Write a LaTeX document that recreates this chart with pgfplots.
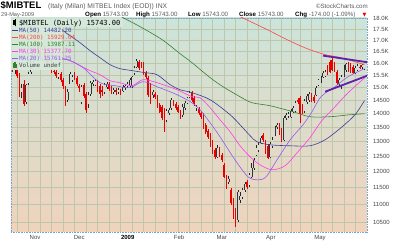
\documentclass[border=0pt]{standalone}
\usepackage{fontspec}
\setmainfont{Liberation Sans}
\newfontfamily\mono{DejaVu Sans Mono}
\newfontfamily\dejavu{DejaVu Sans}
\usepackage{pgfplots}
\usepackage{pgfplotstable}
\pgfplotsset{compat=1.18}

\definecolor{bgtop}{RGB}{204,228,218}
\definecolor{bgmid}{RGB}{242,235,180}
\definecolor{bgbot}{RGB}{240,211,188}
\definecolor{legbg}{RGB}{214,233,218}
\definecolor{gridc}{RGB}{190,198,172}
\definecolor{bord}{RGB}{120,165,205}
\definecolor{tickc}{RGB}{70,70,70}
\definecolor{hdrgray}{RGB}{90,90,90}
\definecolor{cdown}{RGB}{235,0,0}
\definecolor{maF}{RGB}{60,60,150}
\definecolor{maCC}{RGB}{255,70,70}
\definecolor{maC}{RGB}{50,130,50}
\definecolor{maT}{RGB}{255,60,230}
\definecolor{maW}{RGB}{150,90,240}
\definecolor{trend}{RGB}{100,30,170}

\tikzset{
  wickdn/.style={draw=cdown, line width=0.5pt},
  wickup/.style={draw=black!85, line width=0.5pt},
  bodydn/.style={draw=cdown, line width=1.6pt},
  bodyup/.style={draw=black!80, line width=1.6pt},
  bodyin/.style={draw=black!15, line width=0.55pt},
}

% daily candles: t = trading day (0 = 16 Oct 2008, 153 = 29 May 2009)
\pgfplotstableread{
t o h l c
0 16059 16230 15638 15721
1 15721 16059 15555 15889
2 15889 15974 15391 15472
3 15513 15596 14633 14711
4 14829 15147 14595 14988
5 15147 15309 14288 14364
6 14441 15147 14364 15107
7 15188 15638 15107 15555
8 15638 16316 15555 16144
9 16144 16711 16059 16578
10 16578 17024 16490 16845
11 16845 16934 16447 16578
12 16578 16711 16144 16230
13 16230 16667 16101 16578
14 16578 16756 16230 16316
15 16316 16403 15847 15974
16 15974 16273 15805 16144
17 16059 16144 15596 15679
18 15679 15763 15555 15638
19 15638 15721 15391 15472
20 15431 15596 15350 15555
21 15555 15638 15228 15309
22 15309 15391 14948 15067
23 14988 15067 14288 14364
24 14517 14948 14441 14829
25 15147 15638 15147 15555
26 15309 15513 15228 15431
27 15555 15638 15309 15391
28 15391 15472 15067 15147
29 15067 15147 14829 14988
30 14441 15107 14364 15027
31 15107 15188 14595 14672
32 14750 14829 14025 14137
33 14364 14829 14213 14711
34 14750 15269 14672 15188
35 15147 15309 15067 15228
36 15107 15350 15067 15269
37 15228 15309 14829 14988
38 15067 15147 14595 14750
39 14908 15067 14672 14829
40 14829 15188 14750 15107
41 15027 15228 14948 15147
42 15147 15228 14869 14948
43 14988 15067 14750 14829
44 14829 14988 14750 14908
45 14908 14988 14711 14829
46 14829 14988 14750 14908
47 14869 14948 14711 14829
48 14869 15107 14829 15027
49 14988 15147 14908 15067
50 15067 15228 14988 15147
51 15067 15391 14988 15309
52 15067 15472 14988 15431
53 15596 15889 15513 15805
54 15847 16187 15805 16101
55 16059 16144 15721 15805
56 15974 16059 15805 15889
57 15974 16059 15513 15596
58 15596 15679 15350 15431
59 15391 15472 14633 14711
60 15067 15188 14364 14402
61 14711 14908 14595 14829
62 14750 14829 14556 14633
63 14633 14711 14213 14250
64 14326 14402 14025 14062
65 14250 14326 13766 13840
66 14137 14213 13335 13766
67 13766 14175 13694 14100
68 14025 14213 13950 14137
69 14213 14595 14137 14517
70 14441 14517 14288 14364
71 14364 14441 14137 14213
72 14250 14326 14025 14062
73 14062 14137 13803 13840
74 13950 14364 13876 14250
75 14213 14479 14137 14402
76 14402 14633 14364 14595
77 14633 14869 14595 14790
78 14790 14869 14441 14517
79 14595 14672 14288 14364
80 14213 14326 14100 14250
81 14175 14250 13950 14025
82 14025 14100 13803 13876
83 13950 14025 13442 13513
84 13585 13657 13264 13335
85 13371 13442 13089 13159
86 13229 13300 12814 12882
87 12985 13054 12578 12645
88 12712 12780 12412 12479
89 12479 12882 12445 12780
90 12712 12814 12479 12545
91 12545 12612 12314 12379
92 12216 12281 11802 11833
93 11833 11896 11462 11523
94 11677 11865 11615 11770
95 11431 11492 10985 11044
96 11132 11191 10584 10641
97 10840 10898 10361 10556
98 10556 11431 10500 11371
99 11132 11371 11044 11250
100 11221 11492 11162 11431
101 11431 11677 11371 11615
102 11677 11739 11462 11523
103 11584 11960 11523 11896
104 11833 12281 11802 12119
105 12119 12445 12055 12379
106 12545 12882 12512 12780
107 12712 12985 12645 12882
108 12951 13194 12916 13124
109 13229 13300 12985 13054
110 12985 13054 12578 12645
111 12848 12916 12412 12445
112 12479 12985 12445 12916
113 12848 13159 12780 13054
114 13229 13549 13194 13478
115 13513 13657 13442 13585
116 13585 13657 13229 13300
117 13406 13478 12985 13054
118 13054 13913 13020 13840
119 13840 14025 13766 13950
120 13913 14062 13840 13987
121 13876 14175 13840 14100
122 14062 14288 14025 14213
123 14100 14479 14062 14402
124 14517 14595 14364 14441
125 14595 14672 13657 13987
126 14288 14364 13987 14062
127 14100 14556 14025 14479
128 14441 14750 14364 14672
129 14517 14829 14441 14750
130 14672 14790 14441 14633
131 14633 14711 14402 14479
132 14711 15067 14672 14988
133 15107 15350 15067 15309
134 15269 15472 15188 15391
135 15431 15679 15391 15596
136 15472 15721 15431 15638
137 15847 15931 15513 15596
138 16059 16144 15596 15638
139 16144 16230 15679 15721
140 15974 16059 15638 15721
141 15638 15721 15107 15188
142 15147 15391 15027 15309
143 15067 15513 14948 15431
144 15472 15931 15431 15805
145 15721 16016 15638 15974
146 15974 16059 15638 15721
147 15931 16016 15596 15679
148 15847 15931 15555 15596
149 15596 15889 15555 15805
150 15721 15974 15679 15889
151 15847 15931 15763 15820
152 15847 15974 15763 15917
153 15743 15756 15730 15743
}\ohlc

\begin{document}
\begin{tikzpicture}[x=1pt,y=1pt]
\useasboundingbox (0,0) rectangle (400,243);
\begin{axis}[
  at={(11pt,11pt)}, anchor=south west,
  scale only axis, width=356pt, height=214pt,
  xmin=-0.65, xmax=154.1,
  ymode=log, ymin=10225, ymax=18030,
  axis background/.style={shade, top color=bgtop, middle color=bgmid, bottom color=bgbot},
  axis line style={draw=bord, densely dotted, line width=0.6pt},
  xtick={9.8,29.0,50.1,72.4,91.0,112.3,133.7},
  xticklabels={Nov,Dec,\textbf{\color{black}2009},Feb,Mar,Apr,May},
  minor xtick={2,7,12,17,22,27,32,37,42,47,52,57,62,67,72,77,82,87,92,97,102,107,112,117,121,125,130,134,139,144,149},
  ytick={10500,11000,11500,12000,12500,13000,13500,14000,14500,15000,15500,16000,16500,17000,17500,18000},
  yticklabels={10500,11000,11500,12000,12500,13000,13500,14000,14500,15.0K,15.5K,16.0K,16.5K,17.0K,17.5K,18.0K},
  yticklabel pos=right,
  major tick length=0pt, minor tick length=0pt,
  xmajorgrids=false, xminorgrids=true, ymajorgrids=true, yminorgrids=false,
  grid style={draw=gridc, line width=0.45pt},
  minor grid style={draw=gridc, line width=0.45pt},
  ticklabel style={font=\fontsize{6}{7}\selectfont, text=tickc},
  yticklabel style={xshift=2.5pt},
]
% candles
\pgfplotsforeachungrouped \i in {0,...,153}{%
  \pgfplotstablegetelem{\i}{t}\of\ohlc \edef\vt{\pgfplotsretval}%
  \pgfplotstablegetelem{\i}{o}\of\ohlc \edef\vo{\pgfplotsretval}%
  \pgfplotstablegetelem{\i}{h}\of\ohlc \edef\vh{\pgfplotsretval}%
  \pgfplotstablegetelem{\i}{l}\of\ohlc \edef\vl{\pgfplotsretval}%
  \pgfplotstablegetelem{\i}{c}\of\ohlc \edef\vc{\pgfplotsretval}%
  \ifnum\vc<\vo
    \edef\cmd{\noexpand\addplot[wickdn] coordinates {(\vt,\vl) (\vt,\vh)};
      \noexpand\addplot[bodydn] coordinates {(\vt,\vo) (\vt,\vc)};}%
  \else
    \edef\cmd{\noexpand\addplot[wickup] coordinates {(\vt,\vl) (\vt,\vh)};
      \noexpand\addplot[bodyup] coordinates {(\vt,\vo) (\vt,\vc)};
      \noexpand\addplot[bodyin] coordinates {(\vt,\vo) (\vt,\vc)};}%
  \fi
  \cmd
}
% moving averages
\addplot[maC, line width=0.6pt, smooth] coordinates {(42.4,18435) (48.0,18048) (55.4,17622) (65.0,17024) (72.8,16403) (78.0,16016) (85.9,15391) (91.5,15027) (98.9,14633) (104.1,14402) (111.9,14288) (121.9,14062) (129.3,13876) (138.0,13876) (146.7,13950) (153,13987)};
\addplot[maCC, line width=0.6pt, smooth] coordinates {(94.6,18337) (99.8,18048) (110.7,17482) (119.3,17024) (128.0,16622) (135.9,16359) (142.8,16230) (153,15929)};
\addplot[maF, line width=0.6pt, smooth] coordinates {(18.5,17857) (22.0,17436) (25.0,17206) (29.3,16889) (33.7,16534) (38.0,16230) (42.4,15931) (46.7,15763) (52.0,15679) (57.6,15596) (62.8,15513) (68.5,15107) (72.8,14908) (78.0,14790) (85.9,14517) (94.6,13950) (98.9,13585) (103.3,13194) (106.3,12985) (111.9,12882) (120.7,12848) (129.3,12848) (135.9,13054) (142.8,13478) (148.9,13950) (153,14482)};
\addplot[maT, line width=0.6pt, smooth] coordinates {(18.5,16316) (25.0,16101) (29.3,15889) (33.7,15679) (38.0,15513) (42.4,15269) (46.7,15188) (52.0,15067) (56.7,15309) (62.8,15188) (71.5,14908) (78.0,14633) (81.5,14595) (85.9,14213) (90.2,13766) (94.6,13335) (98.9,12848) (103.3,12479) (107.6,12216) (112.8,12055) (118.5,12184) (123.7,12612) (129.3,13124) (134.1,13694) (140.2,14250) (145.9,14790) (153,15378)};
\addplot[maW, line width=0.6pt, smooth] coordinates {(15.0,16059) (19.8,16187) (25.0,16101) (30.7,15805) (38.0,15188) (44.6,15067) (51.1,14988) (56.7,15228) (62.8,15027) (71.5,14711) (78.0,14402) (81.5,14137) (85.9,13657) (90.2,13159) (96.7,12379) (102.4,11833) (106.7,11739) (110.2,11833) (115.0,12379) (120.7,13054) (126.3,13585) (130.2,14062) (134.1,14633) (140.2,15027) (145.9,15431) (153,15761)};
% trendlines
\addplot[trend, line width=1.8pt] coordinates {(135.0,16316) (155.4,16016)};
\addplot[trend, line width=1.8pt] coordinates {(135.9,14829) (155.4,15513)};
\end{axis}

% legend panel
\fill[legbg, opacity=0.92] (11.3,216) rectangle (123,224.7);
\fill[legbg, opacity=0.92] (11.3,173) rectangle (62,216);
\fill[black] (13.2,217.5) rectangle (16.2,222.5);
\draw[black, line width=0.4pt] (14.7,216.5) -- (14.7,223.5);
\node[anchor=west, inner sep=0, font=\mono\fontsize{7}{8}\selectfont] at (19,219.8) {\$MIBTEL (Daily) 15743.00};
\foreach \yy/\cc/\tt in {212.3/maF/MA(50) 14482.20, 205.5/maCC/MA(200) 15929.04, 198.6/maC/MA(100) 13987.11, 191.4/maT/MA(30) 15377.70, 184.1/maW/MA(20) 15761.25}{
  \draw[\cc, line width=0.9pt] (12.3,\yy) -- (18,\yy);
  \node[anchor=west, inner sep=0, text=\cc, font=\mono\fontsize{5.8}{7}\selectfont] at (19,\yy) {\tt};
}
\fill[maC] (12.5,175) rectangle (13.7,179.5);
\fill[maC] (14.3,175) rectangle (15.5,180.5);
\fill[maC] (16.1,175) rectangle (17.3,178.5);
\node[anchor=west, inner sep=0, text=black!75, font=\mono\fontsize{5.8}{7}\selectfont] at (19,177.2) {Volume undef};

% header
\node[anchor=base west, inner sep=0, font=\fontsize{9.5}{10}\selectfont\bfseries] at (0.5,234) {\$MIBTEL};
\node[anchor=base west, inner sep=0, font=\fontsize{6.8}{8}\selectfont, text=hdrgray] at (48,234) {(Italy (Milan) MITBEL Index (EOD)) INX};
\node[anchor=base east, inner sep=0, font=\fontsize{6.2}{7}\selectfont, text=hdrgray] at (368,234) {©StockCharts.com};
\node[anchor=base west, inner sep=0, font=\fontsize{5.6}{7}\selectfont, text=hdrgray] at (1,226) {29-May-2009};
\begin{scope}[every node/.style={anchor=base west, inner sep=0, font=\fontsize{6.2}{7}\selectfont}]
\node at (85,226) {\textbf{Open} \textcolor{hdrgray}{15743.00}};
\node at (136,226) {\textbf{High} \textcolor{hdrgray}{15743.00}};
\node at (188,226) {\textbf{Low} \textcolor{hdrgray}{15743.00}};
\node at (239,226) {\textbf{Close} \textcolor{hdrgray}{15743.00}};
\node at (295,226) {\textbf{Chg} \textcolor{hdrgray}{-174.00 (-1.09\%)}};
\node[text=cdown, font=\dejavu\fontsize{5}{6}\selectfont] at (362.5,226) {▼};
\end{scope}
\end{tikzpicture}
\end{document}
